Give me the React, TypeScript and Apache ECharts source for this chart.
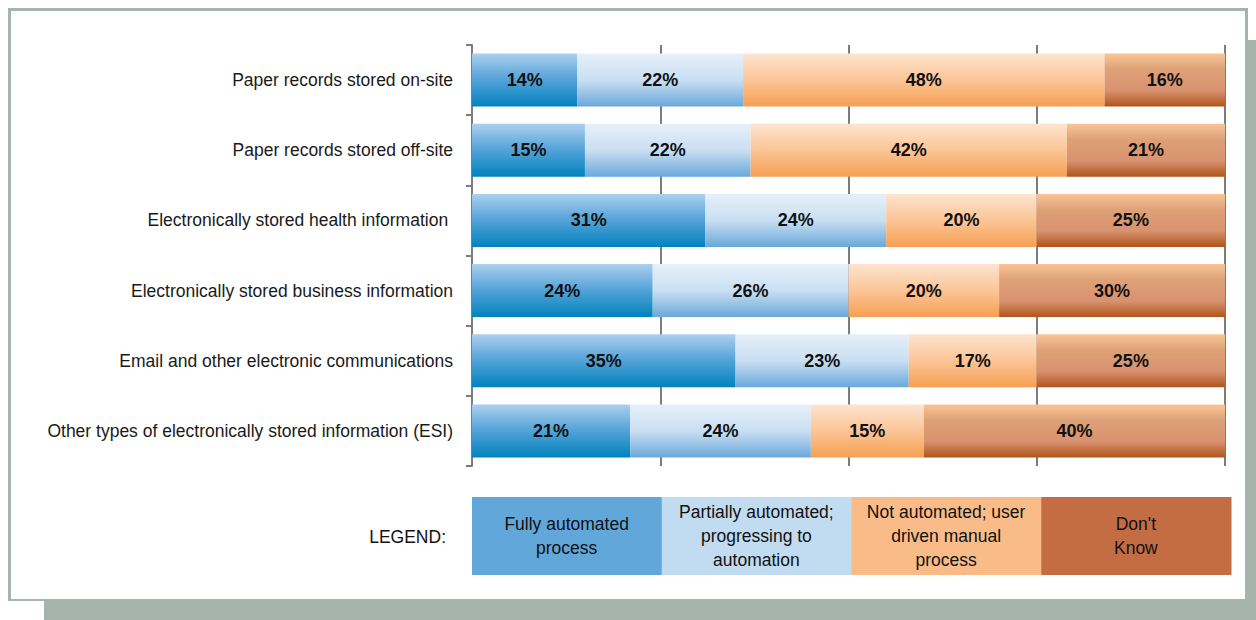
import React, { useEffect, useRef } from "react";
import * as echarts from "echarts";

const categories = [
  "Paper records stored on-site",
  "Paper records stored off-site",
  "Electronically stored health information ",
  "Electronically stored business information",
  "Email and other electronic communications",
  "Other types of electronically stored information (ESI)",
];
const seriesNames = [
  "Fully automated process",
  "Partially automated; progressing to automation",
  "Not automated; user driven manual process",
  "Don't Know",
];
const fullyAutomated = [14, 15, 31, 24, 35, 21];
const partiallyAutomated = [22, 22, 24, 26, 23, 24];
const notAutomated = [48, 42, 20, 20, 17, 15];
const dontKnow = [16, 21, 25, 30, 25, 40];
const legendLabels = [
  "Fully automated\nprocess",
  "Partially automated;\nprogressing to\nautomation",
  "Not automated; user\ndriven manual\nprocess",
  "Don't\nKnow",
];
const xTicks = [0, 25, 50, 75, 100];

const grad = (stops: [number, string][]) =>
  new echarts.graphic.LinearGradient(
    0, 0, 0, 1,
    stops.map(([offset, color]) => ({ offset, color }))
  );

const barFills = [
  grad([[0, "#acd0ee"], [0.45, "#5aa6da"], [1, "#0082bd"]]),
  grad([[0, "#e6f0fa"], [0.5, "#c9dff2"], [1, "#69a8db"]]),
  grad([[0, "#fde4d0"], [0.5, "#fbc596"], [1, "#f69f52"]]),
  grad([[0, "#f9c596"], [0.3, "#dea177"], [0.7, "#d8926f"], [1, "#b0541c"]]),
];
const legendColors = ["#61a7da", "#c1dcf0", "#f9bc88", "#c46d45"];

export default function App() {
  const ref = useRef<HTMLDivElement>(null);
  useEffect(() => {
    document.body.style.margin = "0";
    const chart = echarts.init(ref.current!, undefined, { renderer: "svg" });
    const data = [fullyAutomated, partiallyAutomated, notAutomated, dontKnow];
    const gridLeft = 472;
    const plotW = 753;
    const boxW = plotW / 4 + 1;
    const legendGraphics: any[] = [];
    legendColors.forEach((c, i) => {
      const x = gridLeft + i * (plotW / 4 + 1.5);
      legendGraphics.push({
        type: "rect",
        shape: { x, y: 497, width: boxW + 1, height: 78 },
        style: { fill: c },
      });
      legendGraphics.push({
        type: "text",
        x: x + boxW / 2,
        y: 536,
        style: {
          text: legendLabels[i],
          fill: "#111",
          font: "17.5px 'Liberation Sans', Arial, sans-serif",
          align: "center",
          verticalAlign: "middle",
          lineHeight: 24,
        },
      });
    });
    legendGraphics.push({
      type: "text",
      x: 446,
      y: 537,
      style: {
        text: "LEGEND:",
        fill: "#111",
        font: "17.5px 'Liberation Sans', Arial, sans-serif",
        align: "right",
        verticalAlign: "middle",
      },
    });

    chart.setOption({
      animation: false,
      backgroundColor: "transparent",
      grid: { left: gridLeft, right: 1256 - 1225, top: 45, height: 421 },
      xAxis: {
        type: "value",
        min: xTicks[0],
        max: xTicks[xTicks.length - 1],
        interval: 25,
        axisLine: { show: false },
        axisTick: { show: false },
        axisLabel: { show: false },
        splitLine: { show: true, lineStyle: { color: "#7c7c7c", width: 2 } },
      },
      yAxis: {
        type: "category",
        data: categories,
        inverse: true,
        axisLine: { show: true, lineStyle: { color: "#7c7c7c", width: 2 } },
        axisTick: { show: true, length: 6, lineStyle: { color: "#7c7c7c", width: 2 } },
        axisLabel: {
          margin: 19,
          fontSize: 17.5,
          color: "#1a1a1a",
          fontFamily: "'Liberation Sans', Arial, sans-serif",
        },
      },
      graphic: legendGraphics,
      series: data.map((vals, i) => ({
        name: seriesNames[i],
        type: "bar",
        stack: "total",
        barWidth: 53,
        data: vals,
        itemStyle: { color: barFills[i] },
        label: {
          show: true,
          position: "inside",
          formatter: "{c}%",
          color: "#111",
          fontSize: 18,
          fontWeight: "bold",
          fontFamily: "'Liberation Sans', Arial, sans-serif",
        },
      })),
    });
    return () => chart.dispose();
  }, []);

  return (
    <div style={{ position: "absolute", left: 0, top: 0, width: 1256, height: 620, background: "#fff", overflow: "hidden" }}>
      <div style={{ position: "absolute", left: 44, top: 40, width: 1212, height: 580, background: "#a5b5ad" }} />
      <div
        style={{
          position: "absolute",
          left: 8,
          top: 8,
          width: 1240,
          height: 593,
          boxSizing: "border-box",
          border: "3px solid #a5b5ad",
          borderBottomWidth: 2,
          background: "#fff",
        }}
      />
      <div ref={ref} style={{ position: "absolute", left: 0, top: 0, width: 1256, height: 620 }} />
    </div>
  );
}
